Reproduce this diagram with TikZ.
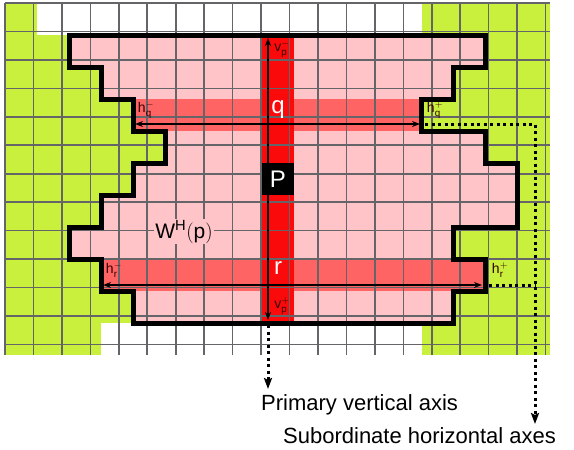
\documentclass[tikz,border=0pt]{standalone}
\usepackage{fontspec}
\setmainfont{Liberation Sans}
\usetikzlibrary{arrows.meta}
\definecolor{cellgreen}{RGB}{200,240,60}
\definecolor{cellpink}{RGB}{255,196,200}
\definecolor{cellsalmon}{RGB}{255,100,100}
\definecolor{cellred}{RGB}{250,10,10}
\definecolor{gridgray}{RGB}{100,100,105}
\tikzset{
  gridline/.style={gridgray, line width=1.6pt},
  outline/.style={black, line width=5pt, line join=miter},
  axisarrow/.style={black, line width=2.2pt, {Stealth[length=8pt,width=6pt]}-{Stealth[length=8pt,width=6pt]}},
  dotline/.style={black, line width=3pt, dash pattern=on 3pt off 3.5pt},
  dotarrow/.style={dotline, -{Stealth[length=11pt,width=8pt,inset=2pt]}},
  smalllabel/.style={inner sep=0pt, text=black!80!red, font=\fontsize{14}{14}\selectfont},
  celllabel/.style={inner sep=0pt, text=white, font=\fontsize{24}{24}\selectfont},
  caption/.style={anchor=base west, inner sep=0pt, font=\fontsize{22}{22}\selectfont}
}
\begin{document}
\begin{tikzpicture}[x=1pt,y=-1pt]
\useasboundingbox (0,0) rectangle (574,450);
\fill[white] (0,0) rectangle (574,450);
\begin{scope}[shift={(5,3)},x=32.06pt,y=-32pt]
  \fill[cellgreen] (0,0) rectangle (17,11);
  \fill[white] (1,0) rectangle (13,1);
  \fill[white] (3,10) rectangle (13,11);
  \fill[cellpink] (2,1) -- (15,1) -- (15,2) -- (14,2) -- (14,3) -- (13,3) -- (13,4)
    -- (15,4) -- (15,5) -- (16,5) -- (16,7) -- (14,7) -- (14,8) -- (15,8) -- (15,9)
    -- (14,9) -- (14,10) -- (4,10) -- (4,9) -- (3,9) -- (3,8) -- (2,8) -- (2,7)
    -- (3,7) -- (3,6) -- (4,6) -- (4,5) -- (5,5) -- (5,4) -- (4,4) -- (4,3) -- (3,3)
    -- (3,2) -- (2,2) -- cycle;
  \fill[cellsalmon] (4,3) rectangle (13,4);
  \fill[cellsalmon] (3,8) rectangle (15,9);
  \fill[cellred] (8,1) rectangle (9,10);
  \draw[gridline] (0,0) grid (17,11);
  \draw[outline] (2,1) -- (15,1) -- (15,2) -- (14,2) -- (14,3) -- (13,3) -- (13,4)
    -- (15,4) -- (15,5) -- (16,5) -- (16,7) -- (14,7) -- (14,8) -- (15,8) -- (15,9)
    -- (14,9) -- (14,10) -- (4,10) -- (4,9) -- (3,9) -- (3,8) -- (2,8) -- (2,7)
    -- (3,7) -- (3,6) -- (4,6) -- (4,5) -- (5,5) -- (5,4) -- (4,4) -- (4,3) -- (3,3)
    -- (3,2) -- (2,2) -- cycle;
\end{scope}
% primary vertical axis
\coordinate (vt) at (268,38);
\coordinate (vb) at (268,320);
\draw[axisarrow] (vt) -- (vb);
% subordinate horizontal axes
\coordinate (hqm) at (135,124);
\coordinate (hqp) at (420,124);
\coordinate (hrm) at (103,285);
\coordinate (hrp) at (482,285);
\draw[axisarrow] (hqm) -- (hqp);
\draw[axisarrow] (hrm) -- (hrp);
% P cell
\fill[black] (262.02,163) rectangle (294.08,195);
\node[celllabel] (P) at (278,179) {P};
\node[celllabel] (q) at (278,110) {q};
\node[celllabel] (r) at (278,268) {r};
% labels
\node[smalllabel] (lvm) at (282,49) {$\mathrm{v}_{\mathrm{p}}^{-}$};
\node[smalllabel] (lvp) at (282,306) {$\mathrm{v}_{\mathrm{p}}^{+}$};
\node[smalllabel] (lhqm) at (146,110) {$\mathrm{h}_{\mathrm{q}}^{-}$};
\node[smalllabel] (lhqp) at (435,110) {$\mathrm{h}_{\mathrm{q}}^{+}$};
\node[smalllabel] (lhrm) at (114,270) {$\mathrm{h}_{\mathrm{r}}^{-}$};
\node[smalllabel] (lhrp) at (500,270) {$\mathrm{h}_{\mathrm{r}}^{+}$};
\node[fill=cellpink, inner sep=1pt, anchor=base, font=\fontsize{21}{21}\selectfont] (wh) at (184,238) {$\mathrm{W}^{\mathrm{H}}\mathrm{(p)}$};
% captions
\node[caption] (prim) at (261,410) {Primary vertical axis};
\node[caption] (sub) at (283,443) {Subordinate horizontal axes};
% dotted leaders
\coordinate (ps) at (268,325);
\coordinate (pe) at (268,389);
\coordinate (qs) at (425,124);
\coordinate (corner) at (535,124);
\coordinate (se) at (535,424);
\coordinate (rs) at (489,285);
\coordinate (rj) at (535,285);
\draw[dotarrow] (ps) -- (pe);
\draw[dotarrow] (qs) -- (corner) -- (se);
\draw[dotline] (rs) -- (rj);
\end{tikzpicture}
\end{document}
